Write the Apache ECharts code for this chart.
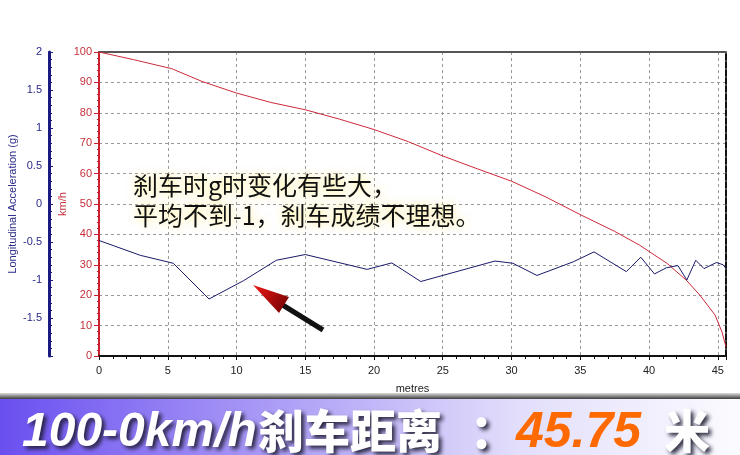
<!DOCTYPE html>
<html>
<head>
<meta charset="utf-8">
<script src="https://cdn.jsdelivr.net/npm/echarts@6/dist/echarts.min.js"></script>
<style>
html,body{margin:0;padding:0;background:#fff;}
#chart{width:740px;height:455px;}
</style>
</head>
<body>
<div id="chart"></div>
<script>
// Speed (km/h) vs distance (m)
const speedDist = [0, 2.5, 5.3, 7.5, 10, 12.5, 15, 17.5, 20, 22.5, 25, 27.5, 30, 32.5, 35, 37.5, 39.3, 41.3, 42.7, 43.7, 44.8, 45.3, 45.6];
const speedVals = [100, 97.5, 94.5, 90.3, 86.5, 83.4, 81, 77.9, 74.5, 70.5, 65.8, 61.6, 57.5, 52.3, 46.5, 41, 36.5, 30.5, 25, 20, 13.5, 8, 3];
// Longitudinal acceleration (g) vs distance (m)
const accDist = [0, 3, 5.4, 8.0, 10.5, 12.9, 15, 19.5, 21.3, 23.4, 28.8, 30.1, 31.85, 34.5, 36.0, 38.35, 39.4, 40.4, 41.25, 42.1, 42.75, 43.4, 44.0, 44.9, 45.4, 45.6];
const accVals = [-0.48, -0.675, -0.78, -1.25, -1.01, -0.74, -0.665, -0.86, -0.775, -1.02, -0.75, -0.78, -0.94, -0.76, -0.63, -0.89, -0.70, -0.92, -0.84, -0.81, -1.0, -0.74, -0.85, -0.77, -0.8, -0.85];
// Text
const accAxisName = 'Longitudinal Acceleration (g)';
const speedAxisName = 'km/h';
const xAxisName = 'metres';
const noteLine1 = '刹车时g时变化有些大，';
const noteLine2 = '平均不到-1，刹车成绩不理想。';
const bannerA = '100-0km/h';
const bannerB = '刹车距离';
const bannerColon = '：';
const bannerNum = '45.75';
const bannerUnit = '米';

const FONT = '"Liberation Sans", Arial, sans-serif';
const CJK = '"Noto Sans CJK SC", sans-serif';

const chart = echarts.init(document.getElementById('chart'), null, {renderer: 'canvas'});
const dashed = {color: '#9a9a9a', type: [3, 3], width: 1};
const bannerShadow = {
  shadowColor: 'rgba(25,25,45,0.9)', shadowBlur: 4, shadowOffsetX: 3, shadowOffsetY: 3,
  textShadowColor: 'rgba(25,25,45,0.9)', textShadowBlur: 4, textShadowOffsetX: 3, textShadowOffsetY: 3
};
const noteGlow = {
  shadowColor: 'rgba(255,240,140,1)', shadowBlur: 8,
  textShadowColor: 'rgba(255,240,140,1)', textShadowBlur: 8
};

chart.setOption({
  animation: false,
  backgroundColor: '#fff',
  grid: {left: 99, right: 14, top: 52, bottom: 99, containLabel: false, outerBoundsMode: 'none'},
  xAxis: [{
    type: 'value', min: 0, max: 45.6, interval: 5, position: 'bottom',
    axisLine: {show: true, onZero: false, lineStyle: {color: '#111', width: 2}},
    axisTick: {show: true, length: 4, lineStyle: {color: '#111'}},
    minorTick: {show: true, splitNumber: 5, length: 3, lineStyle: {color: '#111'}},
    axisLabel: {color: '#222', fontSize: 11, fontFamily: FONT, margin: 9, showMaxLabel: false,
      formatter: v => (Math.abs(v % 5) < 1e-6 ? String(v) : '')},
    splitLine: {show: true, lineStyle: dashed},
    name: xAxisName, nameLocation: 'middle', nameGap: 27, nameMoveOverlap: false,
    nameTextStyle: {color: '#222', fontSize: 11, fontFamily: FONT}
  }, {
    type: 'value', min: 0, max: 45.6, position: 'top',
    axisLine: {show: true, onZero: false, lineStyle: {color: '#555', width: 2}},
    axisTick: {show: false}, axisLabel: {show: false}, splitLine: {show: false}
  }],
  yAxis: [{
    type: 'value', min: 0, max: 100, interval: 10, position: 'left',
    axisLine: {show: true, onZero: false, lineStyle: {color: '#cc2030', width: 2}},
    axisTick: {show: true, length: 5, lineStyle: {color: '#cc2030'}},
    minorTick: {show: true, splitNumber: 5, length: 2, lineStyle: {color: '#cc2030'}},
    axisLabel: {color: '#c4303a', fontSize: 11, fontFamily: FONT, margin: 7},
    splitLine: {show: true, lineStyle: dashed},
    name: speedAxisName, nameLocation: 'middle', nameGap: 31, nameRotate: 90, nameMoveOverlap: false,
    nameTextStyle: {color: '#c4303a', fontSize: 11, fontFamily: FONT}
  }, {
    type: 'value', min: -2, max: 2, interval: 0.5, position: 'left', offset: 50,
    axisLine: {show: true, onZero: false, lineStyle: {color: '#1a1a80', width: 3}},
    axisTick: {show: true, inside: true, length: 4, lineStyle: {color: '#1a1a80'}},
    minorTick: {show: true, splitNumber: 5, length: 3, lineStyle: {color: '#1a1a80'}},
    axisLabel: {color: '#2a2a88', fontSize: 11, fontFamily: FONT, margin: 7,
      formatter: v => (v <= -2 ? '' : String(v))},
    splitLine: {show: false},
    name: accAxisName, nameLocation: 'middle', nameGap: 31, nameRotate: 90, nameMoveOverlap: false,
    nameTextStyle: {color: '#2a2a88', fontSize: 11, fontFamily: FONT}
  }, {
    type: 'value', min: 0, max: 1, position: 'right',
    axisLine: {show: true, onZero: false, lineStyle: {color: '#111', width: 2, type: [6, 2]}},
    axisTick: {show: false}, axisLabel: {show: false}, splitLine: {show: false}
  }],
  series: [{
    name: 'speed', type: 'line', xAxisIndex: 0, yAxisIndex: 0, symbol: 'none',
    lineStyle: {color: '#cc2a3a', width: 1},
    data: speedDist.map((d, i) => [d, speedVals[i]])
  }, {
    name: 'acc', type: 'line', xAxisIndex: 0, yAxisIndex: 1, symbol: 'none',
    lineStyle: {color: '#1a1a6a', width: 1},
    data: accDist.map((d, i) => [d, accVals[i]])
  }],
  graphic: [
    // annotation
    {type: 'text', left: 133, top: 173, z: 100, style: Object.assign({text: noteLine1, font: '25px ' + CJK, fill: '#111'}, noteGlow)},
    {type: 'text', left: 133, top: 203, z: 100, style: Object.assign({text: noteLine2, font: '25px ' + CJK, fill: '#111'}, noteGlow)},
    // arrow
    {type: 'line', z: 100, shape: {x1: 323, y1: 330, x2: 281, y2: 304}, style: {stroke: '#111', lineWidth: 5}},
    {type: 'polygon', z: 101, shape: {points: [[253, 285], [289, 297], [279, 313]]},
      style: {fill: new echarts.graphic.LinearGradient(0, 0, 1, 1, [
        {offset: 0, color: '#f01818'}, {offset: 1, color: '#6a0000'}])}},
    // banner
    {type: 'rect', z: 90, shape: {x: 0, y: 393, width: 740, height: 6},
      style: {fill: new echarts.graphic.LinearGradient(0, 0, 0, 1, [
        {offset: 0, color: '#dddddd'}, {offset: 1, color: '#3c3c3c'}])}},
    {type: 'rect', z: 90, shape: {x: 0, y: 399, width: 740, height: 56},
      style: {fill: new echarts.graphic.LinearGradient(0, 0, 1, 0, [
        {offset: 0, color: '#6a4ff0'}, {offset: 0.3, color: '#a08ef5'},
        {offset: 0.7, color: '#e2defb'}, {offset: 1, color: '#fbfbff'}])}},
    {type: 'text', z: 95, x: 22, y: 433, style: Object.assign({text: bannerA, font: 'italic bold 48px ' + FONT,
      fill: '#fff', verticalAlign: 'middle'}, bannerShadow)},
    {type: 'text', z: 95, x: 258, y: 431, style: Object.assign({text: bannerB, font: '900 46px ' + CJK,
      fill: '#fff', verticalAlign: 'middle'}, bannerShadow)},
    {type: 'text', z: 95, x: 470, y: 431, style: Object.assign({text: bannerColon, font: '900 46px ' + CJK,
      fill: '#fff', verticalAlign: 'middle'}, bannerShadow)},
    {type: 'text', z: 95, x: 516, y: 433, style: {text: bannerNum, font: 'italic bold 50px ' + FONT,
      fill: '#ff6a00', verticalAlign: 'middle'}},
    {type: 'text', z: 95, x: 664, y: 431, style: Object.assign({text: bannerUnit, font: '900 46px ' + CJK,
      fill: '#fff', verticalAlign: 'middle'}, bannerShadow)}
  ]
});
</script>
</body>
</html>
